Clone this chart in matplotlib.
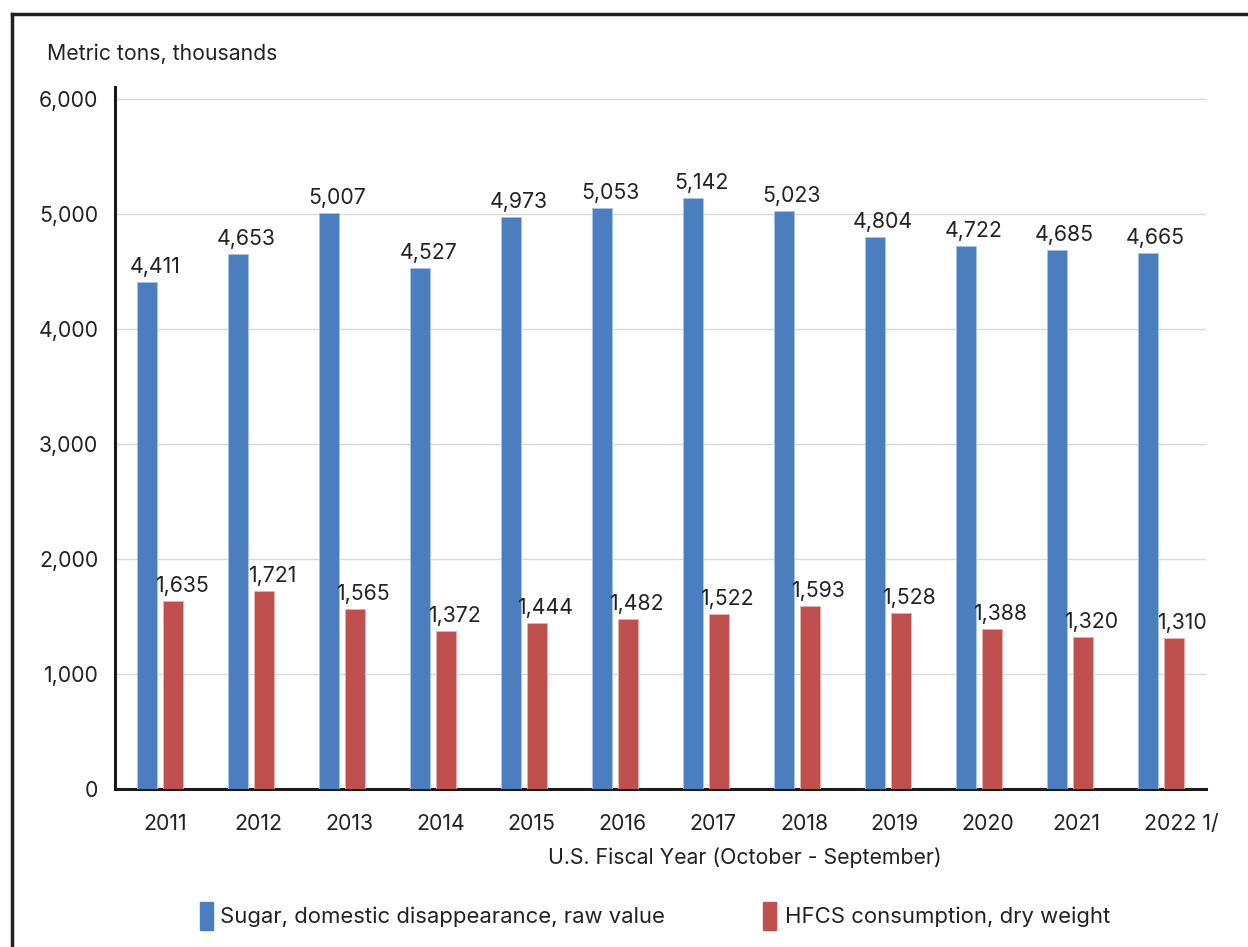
import matplotlib
matplotlib.use("Agg")
import matplotlib.pyplot as plt
import matplotlib.patches as pat
import matplotlib.transforms as mtrans
from matplotlib.lines import Line2D
import numpy as np

years = ["2011", "2012", "2013", "2014", "2015", "2016",
         "2017", "2018", "2019", "2020", "2021", "2022 1/"]
sugar = [4411, 4653, 5007, 4527, 4973, 5053, 5142, 5023, 4804, 4722, 4685, 4665]
hfcs = [1635, 1721, 1565, 1372, 1444, 1482, 1522, 1593, 1528, 1388, 1320, 1310]
y_ticks = [0, 1000, 2000, 3000, 4000, 5000, 6000]

blue = "#4A7EBE"
red = "#C0504D"
txt = "#222222"
fs = 15.3
plt.rcParams['font.family'] = ['Inter', 'DejaVu Sans']

W, H = 1248, 947
fig = plt.figure(figsize=(W/100, H/100), dpi=100)
ax = fig.add_axes([115/W, (H-789)/H, 1091/W, 701.5/H])

x = np.arange(len(years))
bw = 0.22
off = 0.143
b1 = ax.bar(x - off, sugar, bw, color=blue, edgecolor="#A9C4E6", linewidth=0.6, zorder=3)
b2 = ax.bar(x + off, hfcs, bw, color=red, edgecolor="#E8B0AE", linewidth=0.6, zorder=3)

for bars, vals in ((b1, sugar), (b2, hfcs)):
    for b, v in zip(bars, vals):
        ax.annotate(f"{v:,}", (b.get_x() + b.get_width()/2, v), xytext=(8, 5),
                    textcoords="offset pixels", ha="center", va="bottom",
                    fontsize=fs, color=txt)

ax.set_xlim(-0.5, len(years) - 0.5)
ax.set_ylim(0, 6100)
ax.set_yticks(y_ticks)
ax.set_yticklabels([f"{v:,}" for v in y_ticks])
ax.set_xticks(x)
ax.set_xticklabels(years)
ax.tick_params(axis="both", length=0, labelsize=fs, colors=txt)
ax.tick_params(axis="y", pad=12)
ax.tick_params(axis="x", pad=18)
# labels sit left-aligned a bit left of each group centre
shift = mtrans.ScaledTranslation(-17/100, 0, fig.dpi_scale_trans)
for lab in ax.get_xticklabels():
    lab.set_horizontalalignment("left")
    lab.set_transform(lab.get_transform() + shift)
ax.yaxis.grid(True, color="#D9D9D9", linewidth=1)
ax.set_axisbelow(True)
for s in ("top", "right"):
    ax.spines[s].set_visible(False)
for s in ("left", "bottom"):
    ax.spines[s].set_linewidth(2.2)
    ax.spines[s].set_color("#1a1a1a")

fig.text(47/W, 1 - 54/H, "Metric tons, thousands", fontsize=fs, color=txt, va="center")
fig.text(745/W, 1 - 858/H, "U.S. Fiscal Year (October - September)", fontsize=fs,
         color=txt, ha="center", va="center")

# legend
fig.patches.append(pat.Rectangle((200/W, 1 - 930/H), 13/W, 28/H, transform=fig.transFigure,
                                 color=blue, figure=fig))
fig.text(220/W, 1 - 917/H, "Sugar, domestic disappearance, raw value", fontsize=fs + 0.6,
         color=txt, va="center")
fig.patches.append(pat.Rectangle((763/W, 1 - 930/H), 13/W, 28/H, transform=fig.transFigure,
                                 color=red, figure=fig))
fig.text(785/W, 1 - 917/H, "HFCS consumption, dry weight", fontsize=fs + 0.6,
         color=txt, va="center")

# outer frame (top and left edges)
fig.add_artist(Line2D([12/W, 1], [1 - 14/H, 1 - 14/H], transform=fig.transFigure,
                      color="#222222", linewidth=2.5))
fig.add_artist(Line2D([12/W, 12/W], [0, 1 - 14/H], transform=fig.transFigure,
                      color="#222222", linewidth=2.5))

fig.savefig("out.png", dpi=100)
